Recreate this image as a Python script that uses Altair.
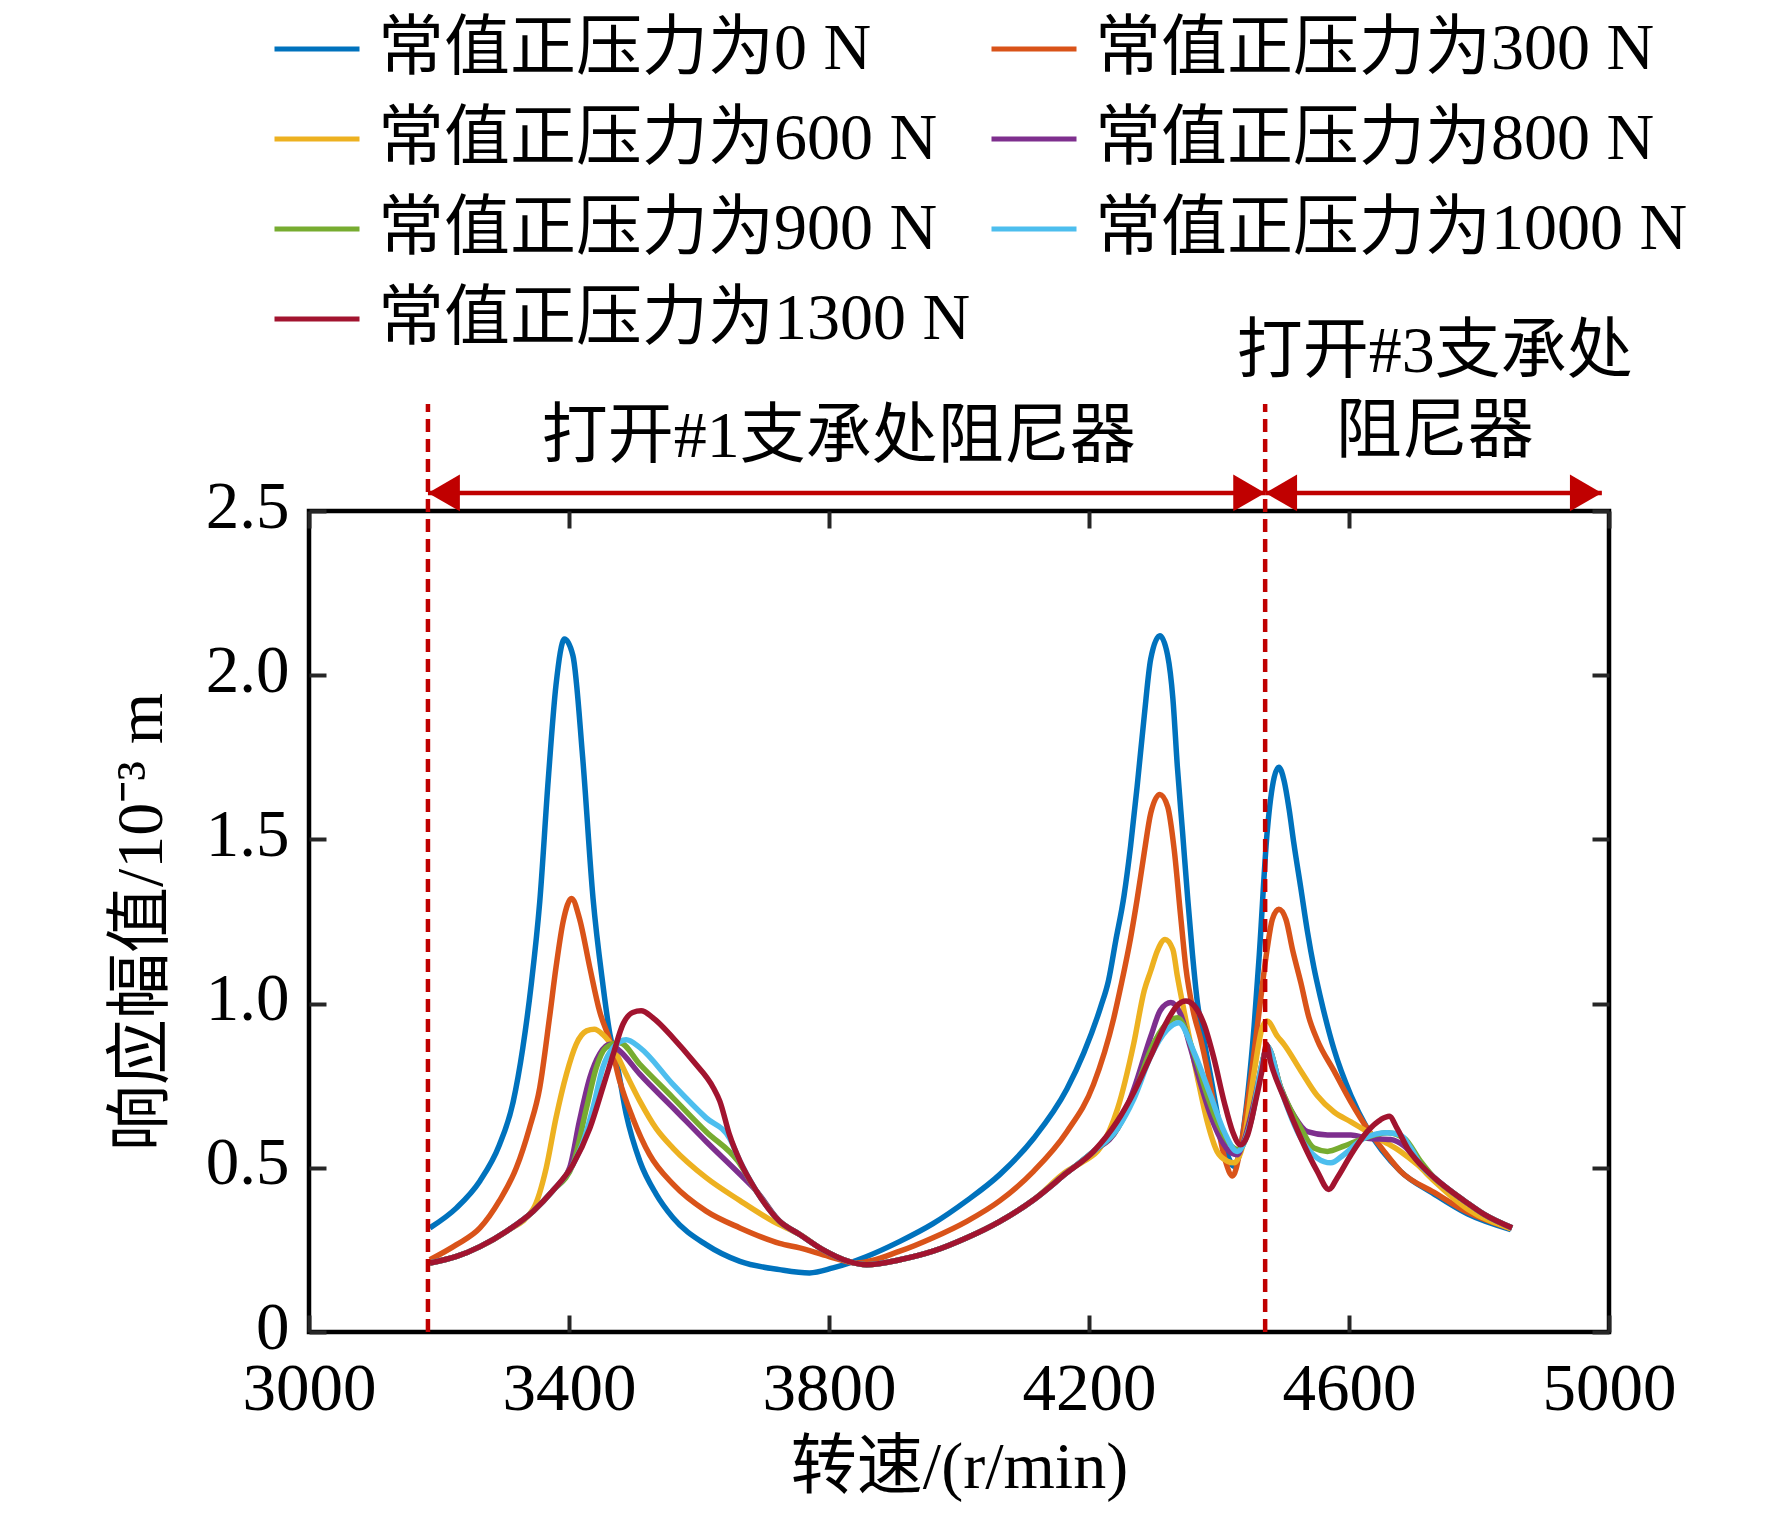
import altair as alt
import pandas as pd

# ---------------- data ----------------
SERIES = ["常值正压力为0 N", "常值正压力为300 N", "常值正压力为600 N", "常值正压力为800 N",
          "常值正压力为900 N", "常值正压力为1000 N", "常值正压力为1300 N"]
COLORS = ["#0072BD", "#D95319", "#EDB120", "#7E2F8E", "#77AC30", "#4DBEEE", "#A2142F"]

x_0 = [3186, 3227, 3263, 3293, 3314, 3329, 3342, 3355, 3368, 3380, 3393, 3406, 3421, 3437, 3452, 3463,
       3473, 3488, 3509, 3534, 3560, 3611, 3663, 3724, 3770, 3806, 3858, 3909, 3960, 4012, 4063, 4115,
       4166, 4192, 4218, 4230, 4241, 4254, 4264, 4274, 4285, 4295, 4309, 4321, 4329, 4336, 4344, 4352,
       4359, 4367, 4374, 4387, 4402, 4415, 4423, 4433, 4444, 4454, 4462, 4474, 4485, 4492, 4500, 4508,
       4515, 4526, 4536, 4546, 4556, 4577, 4603, 4628, 4679, 4731, 4782, 4849]
y_0 = [0.317, 0.378, 0.46, 0.57, 0.70, 0.866, 1.06, 1.31, 1.68, 1.97, 2.11, 2.06, 1.75, 1.32, 1.06, 0.906,
       0.825, 0.663, 0.52, 0.42, 0.348, 0.266, 0.215, 0.19, 0.18, 0.195, 0.23, 0.276, 0.33, 0.40, 0.48, 0.59,
       0.74, 0.85, 0.99, 1.07, 1.19, 1.33, 1.48, 1.66, 1.876, 2.05, 2.12, 2.06, 1.93, 1.72, 1.52, 1.317,
       1.154, 1.0, 0.92, 0.78, 0.62, 0.53, 0.505, 0.56, 0.72, 0.93, 1.15, 1.52, 1.69, 1.72, 1.68, 1.59,
       1.49, 1.35, 1.22, 1.11, 1.02, 0.86, 0.72, 0.62, 0.49, 0.42, 0.36, 0.312]

x_300 = [3186, 3227, 3263, 3293, 3319, 3339, 3355, 3370, 3380, 3391, 3404, 3416, 3432, 3447, 3463, 3478,
         3498, 3524, 3560, 3611, 3663, 3724, 3755, 3800, 3842, 3909, 3960, 4012, 4063, 4115, 4166, 4207,
         4238, 4249, 4264, 4274, 4285, 4295, 4309, 4321, 4331, 4341, 4349, 4360, 4372, 4382, 4397, 4410,
         4421, 4433, 4449, 4462, 4474, 4482, 4492, 4503, 4513, 4526, 4538, 4551, 4577, 4603, 4628, 4654,
         4679, 4731, 4782, 4849]
y_300 = [0.22, 0.266, 0.317, 0.40, 0.50, 0.62, 0.744, 0.957, 1.11, 1.25, 1.32, 1.26, 1.11, 0.977, 0.886, 0.764,
         0.652, 0.54, 0.45, 0.368, 0.317, 0.27, 0.256, 0.23, 0.21, 0.246, 0.287, 0.337, 0.40, 0.49, 0.61, 0.754,
         0.955, 1.053, 1.20, 1.317, 1.46, 1.58, 1.637, 1.60, 1.47, 1.266, 1.11, 0.98, 0.89, 0.80, 0.64, 0.52,
         0.475, 0.56, 0.774, 0.98, 1.165, 1.256, 1.287, 1.256, 1.165, 1.063, 0.96, 0.89, 0.795, 0.70, 0.62, 0.55,
         0.49, 0.425, 0.365, 0.315]

x_600 = [3186, 3227, 3263, 3304, 3345, 3365, 3380, 3396, 3411, 3427, 3439, 3452, 3468, 3488, 3509, 3534,
         3560, 3611, 3663, 3714, 3755, 3791, 3830, 3858, 3909, 3960, 4012, 4063, 4115, 4166, 4192, 4217,
         4244, 4269, 4285, 4295, 4305, 4317, 4329, 4336, 4347, 4367, 4382, 4397, 4413, 4423, 4438, 4454,
         4467, 4474, 4490, 4500, 4526, 4551, 4577, 4603, 4628, 4654, 4679, 4705, 4731, 4782, 4849]
y_600 = [0.21, 0.23, 0.26, 0.307, 0.375, 0.50, 0.652, 0.785, 0.876, 0.917, 0.922, 0.906, 0.866, 0.785, 0.703, 0.62,
         0.56, 0.47, 0.40, 0.337, 0.297, 0.25, 0.215, 0.205, 0.22, 0.246, 0.287, 0.337, 0.403, 0.49, 0.52, 0.56,
         0.68, 0.88, 1.04, 1.10, 1.16, 1.195, 1.165, 1.083, 0.97, 0.774, 0.64, 0.55, 0.52, 0.515, 0.58, 0.79,
         0.93, 0.947, 0.90, 0.876, 0.795, 0.72, 0.67, 0.64, 0.61, 0.58, 0.55, 0.51, 0.46, 0.375, 0.315]

x_800 = [3186, 3227, 3263, 3304, 3345, 3375, 3401, 3416, 3432, 3447, 3463, 3478, 3509, 3560, 3611, 3663,
         3688, 3724, 3755, 3791, 3830, 3858, 3909, 3960, 4012, 4063, 4115, 4166, 4207, 4244, 4269, 4295,
         4310, 4326, 4341, 4356, 4372, 4387, 4402, 4418, 4428, 4438, 4454, 4469, 4474, 4495, 4515, 4536,
         4567, 4603, 4628, 4664, 4685, 4710, 4731, 4756, 4782, 4808, 4851]
y_800 = [0.21, 0.23, 0.26, 0.307, 0.368, 0.43, 0.50, 0.642, 0.774, 0.846, 0.876, 0.856, 0.785, 0.683, 0.58, 0.48,
         0.43, 0.337, 0.297, 0.25, 0.215, 0.205, 0.22, 0.246, 0.287, 0.337, 0.403, 0.485, 0.55, 0.62, 0.74, 0.90,
         0.98, 1.003, 0.967, 0.866, 0.754, 0.66, 0.59, 0.546, 0.54, 0.58, 0.70, 0.84, 0.87, 0.744, 0.66, 0.61,
         0.60, 0.60, 0.59, 0.586, 0.566, 0.51, 0.47, 0.43, 0.393, 0.358, 0.317]

x_900 = [3186, 3227, 3263, 3304, 3345, 3375, 3406, 3427, 3442, 3457, 3478, 3509, 3560, 3611, 3660, 3688,
         3724, 3755, 3791, 3830, 3858, 3909, 3960, 4012, 4063, 4115, 4166, 4207, 4244, 4269, 4295, 4320,
         4336, 4362, 4382, 4402, 4423, 4430, 4449, 4469, 4474, 4495, 4526, 4546, 4567, 4592, 4623, 4659,
         4685, 4710, 4731, 4756, 4782, 4808, 4851]
y_900 = [0.21, 0.23, 0.26, 0.307, 0.368, 0.43, 0.51, 0.683, 0.805, 0.866, 0.881, 0.815, 0.713, 0.61, 0.52, 0.43,
         0.337, 0.297, 0.25, 0.215, 0.205, 0.22, 0.246, 0.287, 0.337, 0.403, 0.485, 0.55, 0.62, 0.72, 0.86, 0.94,
         0.957, 0.845, 0.72, 0.62, 0.56, 0.555, 0.64, 0.84, 0.87, 0.744, 0.62, 0.56, 0.55, 0.566, 0.59, 0.607,
         0.59, 0.52, 0.47, 0.43, 0.393, 0.358, 0.317]

x_1000 = [3186, 3227, 3263, 3304, 3345, 3375, 3406, 3422, 3437, 3452, 3468, 3488, 3509, 3560, 3611, 3647,
          3663, 3688, 3724, 3755, 3791, 3830, 3858, 3909, 3960, 4012, 4063, 4115, 4166, 4207, 4244, 4269,
          4295, 4320, 4338, 4362, 4387, 4408, 4428, 4449, 4469, 4474, 4495, 4526, 4551, 4572, 4592, 4623,
          4659, 4679, 4695, 4710, 4731, 4756, 4782, 4808, 4851]
y_1000 = [0.21, 0.23, 0.26, 0.307, 0.368, 0.43, 0.51, 0.58, 0.683, 0.805, 0.866, 0.89, 0.866, 0.754, 0.652, 0.59,
          0.52, 0.43, 0.337, 0.297, 0.25, 0.215, 0.205, 0.22, 0.246, 0.287, 0.337, 0.403, 0.485, 0.55, 0.62, 0.71,
          0.84, 0.92, 0.942, 0.85, 0.72, 0.61, 0.55, 0.64, 0.84, 0.87, 0.74, 0.59, 0.53, 0.515, 0.54, 0.59,
          0.607, 0.60, 0.56, 0.51, 0.47, 0.43, 0.393, 0.358, 0.317]

x_1300 = [3186, 3227, 3263, 3304, 3345, 3375, 3406, 3432, 3452, 3468, 3483, 3498, 3511, 3529, 3560, 3591,
          3622, 3632, 3647, 3663, 3688, 3724, 3755, 3791, 3830, 3858, 3909, 3960, 4012, 4063, 4115, 4166,
          4207, 4243, 4269, 4295, 4321, 4336, 4349, 4362, 4377, 4392, 4408, 4421, 4433, 4444, 4456, 4467,
          4473, 4479, 4500, 4526, 4551, 4569, 4582, 4603, 4628, 4649, 4662, 4674, 4690, 4710, 4731, 4756,
          4782, 4808, 4851]
y_1300 = [0.21, 0.23, 0.26, 0.307, 0.368, 0.43, 0.51, 0.62, 0.744, 0.846, 0.937, 0.973, 0.978, 0.957, 0.896, 0.825,
          0.744, 0.703, 0.60, 0.52, 0.43, 0.337, 0.297, 0.25, 0.215, 0.205, 0.22, 0.246, 0.287, 0.337, 0.403, 0.485,
          0.55, 0.64, 0.73, 0.84, 0.95, 0.995, 1.008, 0.993, 0.937, 0.835, 0.70, 0.61, 0.57, 0.60, 0.70, 0.805,
          0.876, 0.825, 0.713, 0.59, 0.49, 0.434, 0.47, 0.54, 0.61, 0.647, 0.657, 0.62, 0.56, 0.51, 0.47, 0.43,
          0.393, 0.358, 0.317]

XS = [x_0, x_300, x_600, x_800, x_900, x_1000, x_1300]
YS = [y_0, y_300, y_600, y_800, y_900, y_1000, y_1300]

X_TICKS = [3000, 3400, 3800, 4200, 4600, 5000]
Y_TICKS = [0, 0.5, 1.0, 1.5, 2.0, 2.5]
X_DOMAIN = [3000, 5000]
Y_DOMAIN = [0, 2.5]

# annotation values (data units)
switch_x = [3183, 4471]
switch_top = 2.826
arrow_y = 2.555
arrow_start = [3183, 4471]
arrow_end = [4471, 4989]
note_text = ["打开#1支承处阻尼器", "打开#3支承处", "阻尼器"]
note_x = [3815, 4732, 4732]
note_y = [2.725, 2.985, 2.74]

# ---------------- build ----------------
rows = []
for name, xs, ys in zip(SERIES, XS, YS):
    for xv, yv in zip(xs, ys):
        rows.append({"x": xv, "y": yv, "series": name})
df = pd.DataFrame(rows)

SERIF = "Liberation Serif, Noto Sans CJK SC"
RED = "#C00000"

xs_scale = alt.Scale(domain=X_DOMAIN, nice=False, zero=False)
ys_scale = alt.Scale(domain=Y_DOMAIN, nice=False, zero=False)

lines = alt.Chart(df).mark_line(strokeWidth=5.5, interpolate="monotone").encode(
    x=alt.X("x:Q", scale=xs_scale,
            axis=alt.Axis(values=X_TICKS, format="d", orient="bottom", offset=-17, tickSize=17,
                          labelFlush=False, labelPadding=24, title="转速/(r/min)", titlePadding=13)),
    y=alt.Y("y:Q", scale=ys_scale,
            axis=alt.Axis(values=Y_TICKS, orient="left", offset=-17, tickSize=17, labelPadding=20,
                          labelFlush=False, labelOffset=-4,
                          labelExpr="datum.value == 0 ? '0' : format(datum.value, '.1f')",
                          title="响应幅值/10⁻³ m", titlePadding=30)),
    color=alt.Color("series:N", sort=SERIES,
                    scale=alt.Scale(domain=SERIES, range=COLORS),
                    legend=alt.Legend(orient="none", legendX=-37, legendY=-507, columns=2,
                                      direction="horizontal",
                                      symbolType="stroke", symbolSize=7225, symbolStrokeWidth=5,
                                      labelFont=SERIF, labelFontSize=66, labelOffset=16,
                                      labelLimit=2000, rowPadding=12, columnPadding=10,
                                      padding=0, title=None)),
    detail="series:N",
    order=alt.Order("x:Q"),
)

vr_df = pd.DataFrame({"x": switch_x, "y": [0] * len(switch_x), "y2": [switch_top] * len(switch_x)})
vrules = alt.Chart(vr_df).mark_rule(color=RED, strokeWidth=4.5, strokeDash=[13, 7]).encode(
    x=alt.X("x:Q", scale=xs_scale,
            axis=alt.Axis(values=X_TICKS, orient="top", offset=-17, tickSize=17, labels=False, title=None)),
    y=alt.Y("y:Q", scale=ys_scale,
            axis=alt.Axis(values=Y_TICKS, orient="right", offset=-17, tickSize=17, labels=False, title=None)),
    y2="y2:Q",
)

ar_df = pd.DataFrame({"x": arrow_start, "x2": arrow_end, "y": [arrow_y] * len(arrow_start)})
arrows = alt.Chart(ar_df).mark_rule(color=RED, strokeWidth=4.5).encode(
    x=alt.X("x:Q", scale=xs_scale, axis=None),
    x2="x2:Q",
    y=alt.Y("y:Q", scale=ys_scale, axis=None),
)

hl_df = pd.DataFrame({"x": arrow_start, "y": [arrow_y] * len(arrow_start)})
heads_left = alt.Chart(hl_df).mark_point(shape="triangle-left", filled=True, color=RED, opacity=1,
                                         size=1350, xOffset=16, strokeWidth=0).encode(
    x=alt.X("x:Q", scale=xs_scale, axis=None),
    y=alt.Y("y:Q", scale=ys_scale, axis=None),
)
hr_df = pd.DataFrame({"x": arrow_end, "y": [arrow_y] * len(arrow_end)})
heads_right = alt.Chart(hr_df).mark_point(shape="triangle-right", filled=True, color=RED, opacity=1,
                                          size=1350, xOffset=-16, strokeWidth=0).encode(
    x=alt.X("x:Q", scale=xs_scale, axis=None),
    y=alt.Y("y:Q", scale=ys_scale, axis=None),
)

nt_df = pd.DataFrame({"x": note_x, "y": note_y, "t": note_text})
notes = alt.Chart(nt_df).mark_text(font=SERIF, fontSize=66, align="center", baseline="middle",
                                   color="black").encode(
    x=alt.X("x:Q", scale=xs_scale, axis=None),
    y=alt.Y("y:Q", scale=ys_scale, axis=None),
    text="t:N",
)

chart = alt.layer(lines, vrules, arrows, heads_left, heads_right, notes).resolve_axis(
    x="independent", y="independent"
).properties(
    width=1300, height=821,
    autosize=alt.AutoSizeParams(type="none"),
    padding={"left": 301, "top": 503, "right": 150, "bottom": 170},
).configure_view(
    stroke="black", strokeWidth=4.5
).configure_axis(
    grid=False, domain=False, tickColor="#262626", tickWidth=4,
    labelFont="Liberation Serif", labelFontSize=67, labelColor="black",
    titleFont=SERIF, titleFontSize=66, titleFontWeight="normal", titleColor="black",
)

chart.save("out.html", embed_options={"renderer": "svg", "actions": False})
